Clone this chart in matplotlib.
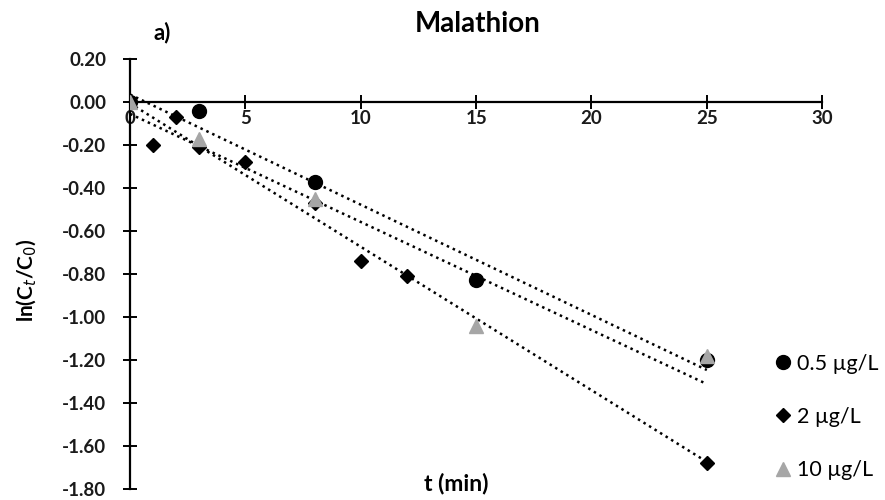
import numpy as np
import matplotlib
matplotlib.use("Agg")
import matplotlib.pyplot as plt
from matplotlib.ticker import FuncFormatter

plt.rcParams['font.family'] = ['Lato', 'DejaVu Sans']

# Reaction time (min) and ln(Ct/C0) for each initial concentration
t_05 = [0, 3, 8, 15, 25]
y_05 = [0.00, -0.04, -0.37, -0.83, -1.20]

t_2 = [0, 1, 2, 3, 5, 8, 10, 12, 25]
y_2 = [0.00, -0.20, -0.07, -0.21, -0.28, -0.47, -0.74, -0.81, -1.68]

t_10 = [0, 3, 8, 15, 25]
y_10 = [0.00, -0.17, -0.45, -1.04, -1.18]

labels = ["0.5 µg/L", "2 µg/L", "10 µg/L"]
x_ticks = [0, 5, 10, 15, 20, 25, 30]
y_ticks = [0.2, 0.0, -0.2, -0.4, -0.6, -0.8, -1.0, -1.2, -1.4, -1.6, -1.8]

fig = plt.figure(figsize=(8.85, 5.0), dpi=100)
ax = fig.add_axes([0.147, 0.022, 0.782, 0.86])

series = [
    (t_05, y_05, dict(marker='o', color='black', markersize=10)),
    (t_2, y_2, dict(marker='D', color='black', markersize=7.5)),
    (t_10, y_10, dict(marker='^', color='#a6a6a6', markersize=10)),
]

handles = []
for (t, y, style), lab in zip(series, labels):
    h, = ax.plot(t, y, linestyle='none', label=lab, zorder=3, **style)
    handles.append(h)
    # linear trendline
    k, b = np.polyfit(t, y, 1)
    tt = np.array([0, max(t)])
    ax.plot(tt, k * tt + b, color='black', linestyle=(0, (1, 1.6)),
            linewidth=1.8, zorder=2)

ax.set_xlim(0, 30)
ax.set_ylim(-1.8, 0.2)
ax.set_xticks(x_ticks)
ax.set_yticks(y_ticks)
ax.yaxis.set_major_formatter(FuncFormatter(lambda v, p: f"{v:.2f}".replace("−", "-")))

for s in ['top', 'right']:
    ax.spines[s].set_visible(False)
ax.spines['bottom'].set_position(('data', 0))
ax.spines['left'].set_position(('data', 0))
ax.spines['left'].set_linewidth(1.6)
ax.spines['bottom'].set_linewidth(1.6)

ax.tick_params(axis='both', direction='inout', length=10, width=1.4,
               labelsize=13.5, colors='black')
ax.tick_params(axis='x', pad=1)
ax.tick_params(axis='y', pad=12)
for lbl in ax.get_xticklabels() + ax.get_yticklabels():
    lbl.set_fontweight('bold')
    lbl.set_color('#1a1a1a')

fig.text(0.54, 0.952, "Malathion", ha='center', va='center',
         fontsize=20, fontweight='bold')
fig.text(0.183, 0.934, "a)", ha='center', va='center',
         fontsize=16, fontweight='bold')
fig.text(0.515, 0.034, "t (min)", ha='center', va='center',
         fontsize=16.5, fontweight='bold')
fig.text(0.03, 0.44, "ln(C$_t$/C$_0$)", ha='center', va='center',
         rotation=90, fontsize=15, fontweight='bold')

ax.legend(handles=handles, loc='upper left', bbox_to_anchor=(0.92, 0.335),
          frameon=False, fontsize=15.5, labelspacing=1.55, handlelength=0.7,
          handletextpad=0.3, borderaxespad=0)

fig.savefig("out.png", dpi=100)
